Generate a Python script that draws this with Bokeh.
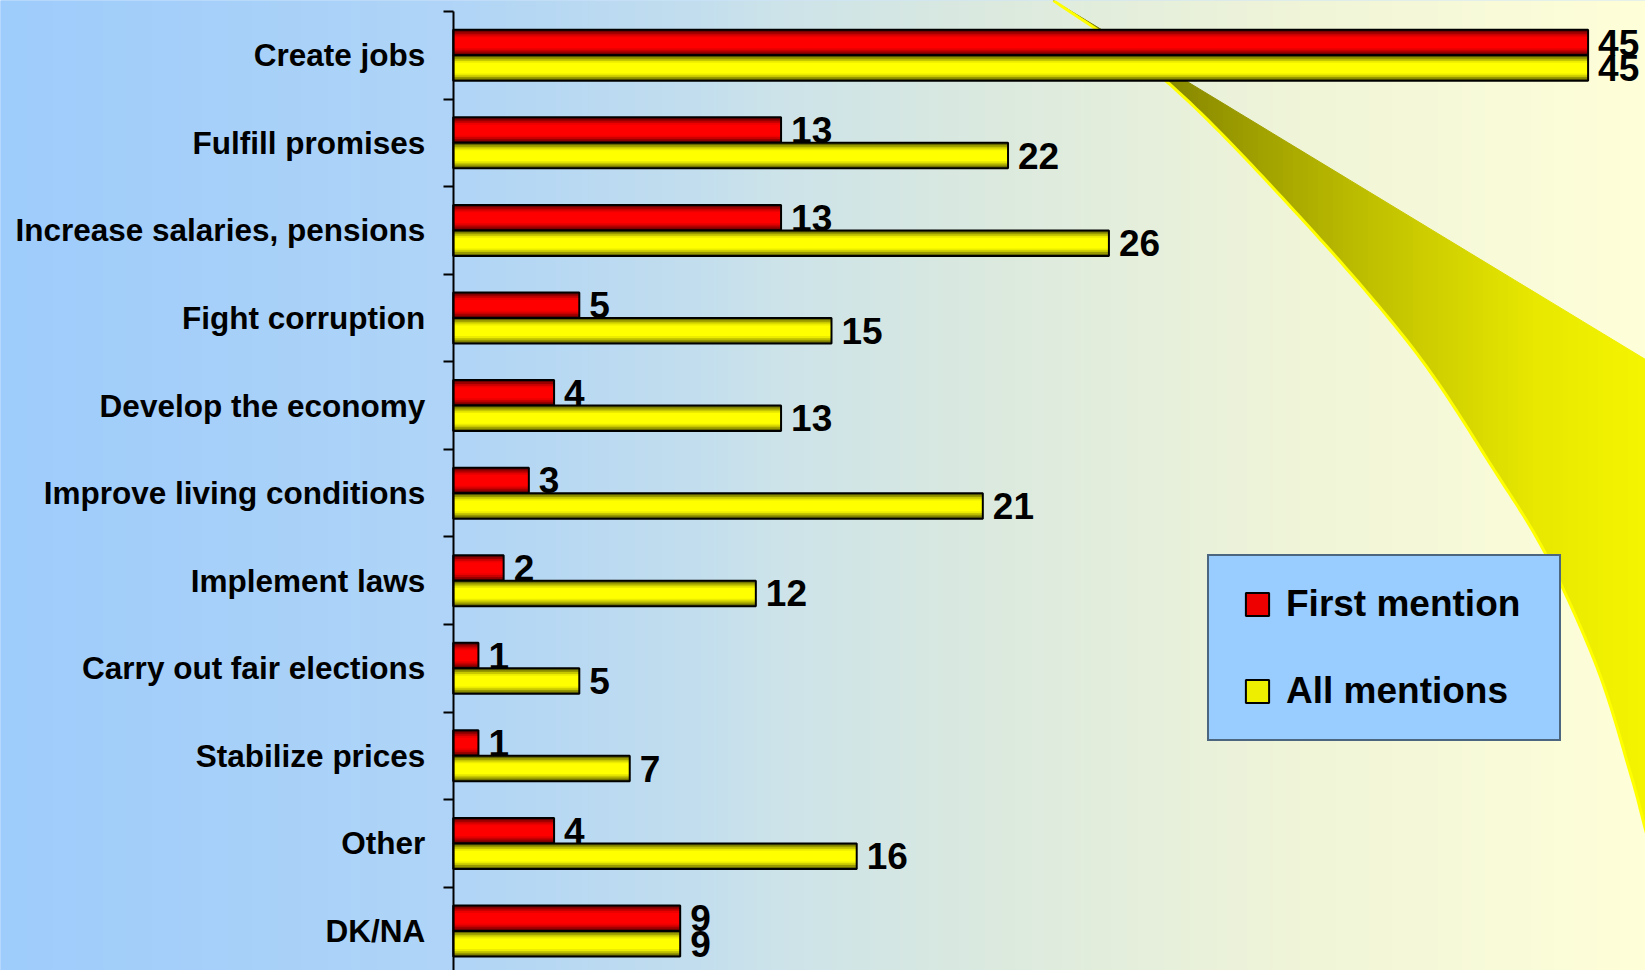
import numpy as np
from bokeh.plotting import figure
from bokeh.models import Range1d, FixedTicker, Legend, LegendItem, ColumnDataSource
from bokeh.core.properties import value
from bokeh.embed import file_html
from bokeh.resources import INLINE

# ---------------- data ----------------
categories = ["Create jobs", "Fulfill promises", "Increase salaries, pensions",
              "Fight corruption", "Develop the economy", "Improve living conditions",
              "Implement laws", "Carry out fair elections", "Stabilize prices",
              "Other", "DK/NA"]
first_mention = [45, 13, 13, 5, 4, 3, 2, 1, 1, 4, 9]
all_mentions = [45, 22, 26, 15, 13, 21, 12, 5, 7, 16, 9]
series_names = ["First mention", "All mentions"]

# ---------------- layout (page pixels) ----------------
W, H = 1645, 970
OFF = 0
AX_X = 452.7        # page x of value 0
PX_PER_UNIT = 25.22
CAT0_Y = 54.8       # page y of first category centre
PX_PER_CAT = 87.57

def dx(px):
    return (px - AX_X) / PX_PER_UNIT

def dy(py):
    return (py - CAT0_Y) / PX_PER_CAT

x0, x1 = dx(OFF), dx(OFF + W)
y_top, y_bot = dy(OFF), dy(OFF + H)

p = figure(width=W, height=H, x_range=Range1d(x0, x1), y_range=Range1d(y_bot, y_top),
           x_axis_type=None, output_backend="svg", toolbar_location=None,
           min_border=0, min_border_left=0, min_border_right=0,
           min_border_top=0, min_border_bottom=0)
p.outline_line_color = None
p.ygrid.visible = False
p.border_fill_color = "#9ecbfb"
p.background_fill_color = "#9ecbfb"

# ---------------- background gradient ----------------
stops_x = np.array([0, 450, 700, 770, 1000, 1300, 1645], dtype=float)
stops_c = np.array([[158, 204, 252], [176, 213, 247], [195, 222, 238], [204, 227, 234],
                    [220, 234, 223], [240, 245, 216], [255, 255, 216]], dtype=float)
n = 500
px_cols = np.linspace(OFF - 4, OFF + W + 4, n)
img = np.zeros((1, n), dtype=np.uint32)
view = img.view(dtype=np.uint8).reshape((1, n, 4))
for k in range(3):
    view[0, :, k] = np.interp(px_cols, stops_x, stops_c[:, k]).astype(np.uint8)
view[0, :, 3] = 255
p.image_rgba(image=[img], x=dx(OFF - 4), y=dy(OFF - 4),
             dw=dx(OFF + W + 4) - dx(OFF - 4), dh=dy(OFF + H + 4) - dy(OFF - 4))

# ---------------- decorative swoosh ----------------
ctrl = np.array([[1040, -10], [1053, 0], [1165, 80], [1288, 204], [1411, 346], [1494, 470],
                 [1547, 557], [1597, 668], [1630, 773], [1645, 829], [1665, 905], [1680, 970]],
                dtype=float)

def catmull(P, m=20):
    out = []
    for i in range(1, len(P) - 2):
        p0, p1, p2, p3 = P[i - 1], P[i], P[i + 1], P[i + 2]
        for t in np.linspace(0, 1, m, endpoint=False):
            t2, t3 = t * t, t * t * t
            out.append(0.5 * ((2 * p1) + (-p0 + p2) * t + (2 * p0 - 5 * p1 + 4 * p2 - p3) * t2
                              + (-p0 + 3 * p1 - 3 * p2 + p3) * t3))
    out.append(P[-2])
    return np.array(out)

curve = catmull(ctrl)
lo_x, lo_y = curve[:, 0], curve[:, 1]

def lower(x):
    return np.interp(x, lo_x, lo_y)

def upper(x):
    return (x - 1053.0) * 0.6064

sc_x = np.array([1053, 1185, 1370, 1535, 1665], dtype=float)
sc_c = np.array([[120, 120, 0], [140, 140, 0], [192, 192, 0], [232, 232, 0], [247, 247, 0]], dtype=float)
edges = np.arange(1053, 1668, 5, dtype=float)
sxs, sys_, scol = [], [], []
for a, b in zip(edges[:-1], edges[1:]):
    xs_px = [a, b, b, a]
    ys_px = [upper(a), upper(b), lower(b), lower(a)]
    sxs.append([dx(v) for v in xs_px])
    sys_.append([dy(v) for v in ys_px])
    m = 0.5 * (a + b)
    c = [int(np.interp(m, sc_x, sc_c[:, k])) for k in range(3)]
    scol.append("#%02x%02x%02x" % tuple(c))
p.patches(xs=sxs, ys=sys_, fill_color=scol, line_color=scol, line_width=1)
p.line(x=[dx(v) for v in lo_x], y=[dy(v) for v in lo_y], line_color="#ffff00", line_width=3)

# ---------------- bars ----------------
bh = 25.5 / PX_PER_CAT
ypos = np.arange(len(categories), dtype=float)
src_r = ColumnDataSource(dict(y=ypos - bh / 2, v=first_mention, t=[str(v) for v in first_mention]))
src_y = ColumnDataSource(dict(y=ypos + bh / 2, v=all_mentions, t=[str(v) for v in all_mentions]))

fracs = [1.0, 0.84, 0.70, 0.56, 0.42]
red_cols = ["#680000", "#980000", "#c80000", "#ec0000", "#ff0000"]
yel_cols = ["#686800", "#989800", "#c8c800", "#ecec00", "#ffff00"]

def draw_series(src, cols):
    for f, c in zip(fracs, cols):
        p.hbar(y="y", height=bh * f, left=0, right="v", source=src,
               fill_color=c, line_color=None)
    p.hbar(y="y", height=bh, left=0, right="v", source=src,
           fill_color=None, line_color="black", line_width=2)

draw_series(src_r, red_cols)
draw_series(src_y, yel_cols)

for src in (src_r, src_y):
    p.text(x="v", y="y", text="t", source=src, x_offset=10, text_baseline="middle",
           text_align="left", text_font=value("Liberation Sans"), text_font_style="bold",
           text_font_size="37px", text_color="black")

# legend swatches: zero-size markers at the bar ends (only visible in the legend)
lg_r = p.scatter(x="v", y="y", source=src_r, marker="square", size=0,
                 fill_color="#ee0000", line_color="black", line_width=2)
lg_y = p.scatter(x="v", y="y", source=src_y, marker="square", size=0,
                 fill_color="#eeee00", line_color="black", line_width=2)

# ---------------- axis ----------------
ax = p.yaxis[0]
ax.fixed_location = 0
ax.bounds = (-0.5, 10.5)
ax.ticker = FixedTicker(ticks=list(range(len(categories))),
                        minor_ticks=[i - 0.5 for i in range(len(categories) + 1)])
ax.major_label_overrides = {i: c for i, c in enumerate(categories)}
ax.major_tick_out = 0
ax.major_tick_in = 0
ax.minor_tick_out = 10
ax.minor_tick_in = 0
ax.axis_line_width = 2
ax.axis_line_color = "black"
ax.minor_tick_line_width = 2
ax.minor_tick_line_color = "black"
ax.major_label_standoff = 18
ax.major_label_text_font = "Liberation Sans"
ax.major_label_text_font_style = "bold"
ax.major_label_text_font_size = "31.5px"
ax.major_label_text_color = "black"

# ---------------- legend ----------------
PAD = 19
GL = 58
SP = 29
leg_left = 1207 - OFF
leg_h = 2 * PAD + 2 * GL + SP
leg_top = 557.5
leg_bottom_from_frame = (OFF + H) - (leg_top + leg_h)
legend = Legend(items=[LegendItem(label=series_names[0], renderers=[lg_r], index=0),
                       LegendItem(label=series_names[1], renderers=[lg_y], index=0)],
                location=(leg_left, leg_bottom_from_frame),
                border_line_color="black", border_line_width=2,
                background_fill_color="#99ccff", background_fill_alpha=1.0,
                padding=PAD, spacing=SP, margin=0,
                glyph_width=GL, glyph_height=GL, label_standoff=0, label_width=254,
                label_text_font="Liberation Sans", label_text_font_style="bold",
                label_text_font_size="37px", label_text_color="black")
p.add_layout(legend, "center")

open("out.html", "w").write(file_html(p, INLINE))
